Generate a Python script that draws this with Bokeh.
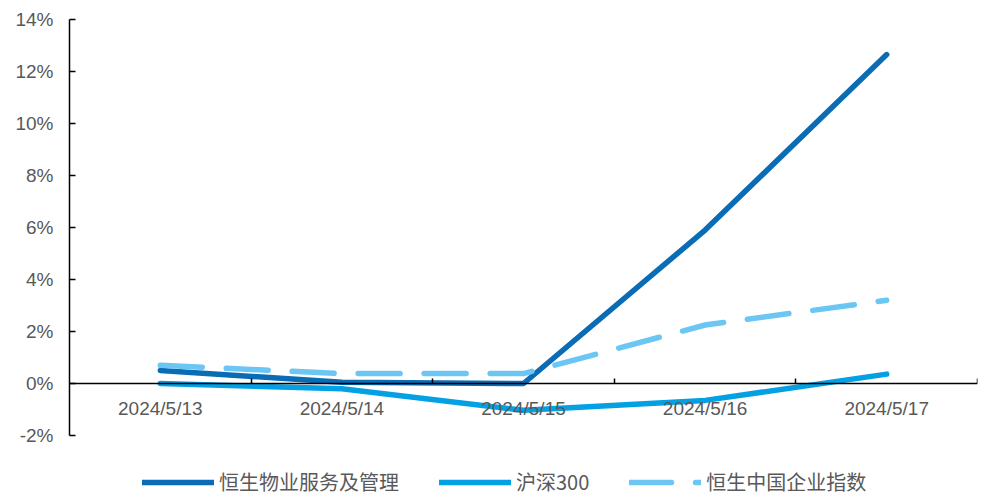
from bokeh.plotting import figure
from bokeh.models import (Range1d, LinearAxis, FixedTicker, Legend, LegendItem,
                          PrintfTickFormatter)
from bokeh.embed import file_html
from bokeh.resources import INLINE

# ---- data ----
dates = ["2024/5/13", "2024/5/14", "2024/5/15", "2024/5/16", "2024/5/17"]
s_property = [0.50, 0.05, 0.00, 5.90, 12.65]   # 恒生物业服务及管理
s_hs300 = [0.00, -0.20, -1.03, -0.65, 0.36]    # 沪深300
s_hscei = [0.70, 0.38, 0.38, 2.25, 3.20]       # 恒生中国企业指数
names = ["恒生物业服务及管理", "沪深300", "恒生中国企业指数"]
y_ticks = [-2, 0, 2, 4, 6, 8, 10, 12, 14]

colors = ["#0B6CB6", "#03A0E4", "#6BC6F4"]
TXT = "#595959"
LATIN = "Liberation Sans"
CJK = "Noto Sans CJK SC"

xs = [i + 0.5 for i in range(len(dates))]
bounds = [i + 1 for i in range(len(dates))]

# frame spans 19..498 px; 26 px per 1 %, leaving room for the legend under -2 %
px_per_unit = 26.0
y_low = min(y_ticks) - 63 / px_per_unit
y_high = max(y_ticks)

p = figure(width=981, height=498, output_backend="svg", toolbar_location=None,
           x_range=Range1d(0, len(dates)), y_range=Range1d(y_low, y_high),
           x_axis_type=None, y_axis_type=None,
           min_border_left=69, min_border_right=4, min_border_top=19, min_border_bottom=0)
p.outline_line_color = None
p.xgrid.visible = False
p.ygrid.visible = False
p.background_fill_color = "white"
p.border_fill_color = "white"

# y axis
yax = LinearAxis(ticker=FixedTicker(ticks=y_ticks),
                 formatter=PrintfTickFormatter(format="%d%%"),
                 bounds=(min(y_ticks), max(y_ticks)))
yax.axis_line_color = "black"
yax.axis_line_width = 1.5
yax.major_tick_line_color = "black"
yax.major_tick_line_width = 1.5
yax.major_tick_in = 6
yax.major_tick_out = 0
yax.minor_tick_line_color = None
yax.major_label_standoff = 16
yax.major_label_text_font = LATIN
yax.major_label_text_font_size = "19px"
yax.major_label_text_color = TXT
p.add_layout(yax, "left")

# x axis labels (at y = 0)
xax = LinearAxis(ticker=FixedTicker(ticks=xs),
                 major_label_overrides={x: d for x, d in zip(xs, dates)},
                 fixed_location=0)
xax.axis_line_color = "black"
xax.axis_line_width = 1.5
xax.major_tick_line_color = None
xax.major_tick_in = 0
xax.major_tick_out = 0
xax.minor_tick_line_color = None
xax.major_label_standoff = 14
xax.major_label_text_font = LATIN
xax.major_label_text_font_size = "19px"
xax.major_label_text_color = TXT
p.add_layout(xax, "below")

# x axis tick marks at category boundaries
xtk = LinearAxis(ticker=FixedTicker(ticks=bounds), fixed_location=0)
xtk.axis_line_color = None
xtk.major_tick_line_color = "black"
xtk.major_tick_line_width = 1.5
xtk.major_tick_in = 5
xtk.major_tick_out = 0
xtk.minor_tick_line_color = None
xtk.major_label_text_color = None
xtk.major_label_text_font_size = "1px"
xtk.major_label_standoff = 0
p.add_layout(xtk, "below")

r1 = p.line(xs, s_property, line_color=colors[0], line_width=5.5,
            line_cap="round", line_join="round")
r2 = p.line(xs, s_hs300, line_color=colors[1], line_width=5.5,
            line_cap="round", line_join="round")
r3 = p.line(xs, s_hscei, line_color=colors[2], line_width=5.5,
            line_cap="round", line_join="round", line_dash="42 24")

legend = Legend(items=[LegendItem(label=names[0], renderers=[r1]),
                       LegendItem(label=names[1], renderers=[r2]),
                       LegendItem(label=names[2], renderers=[r3])],
                orientation="horizontal", location=(73, 2),
                glyph_width=72, glyph_height=20, label_standoff=5, spacing=40,
                padding=0, margin=0, border_line_color=None,
                background_fill_alpha=0,
                label_text_font=CJK, label_text_font_size="20px",
                label_text_color=TXT, label_height=20)
p.add_layout(legend, "center")

open("out.html", "w").write(file_html(p, INLINE))
